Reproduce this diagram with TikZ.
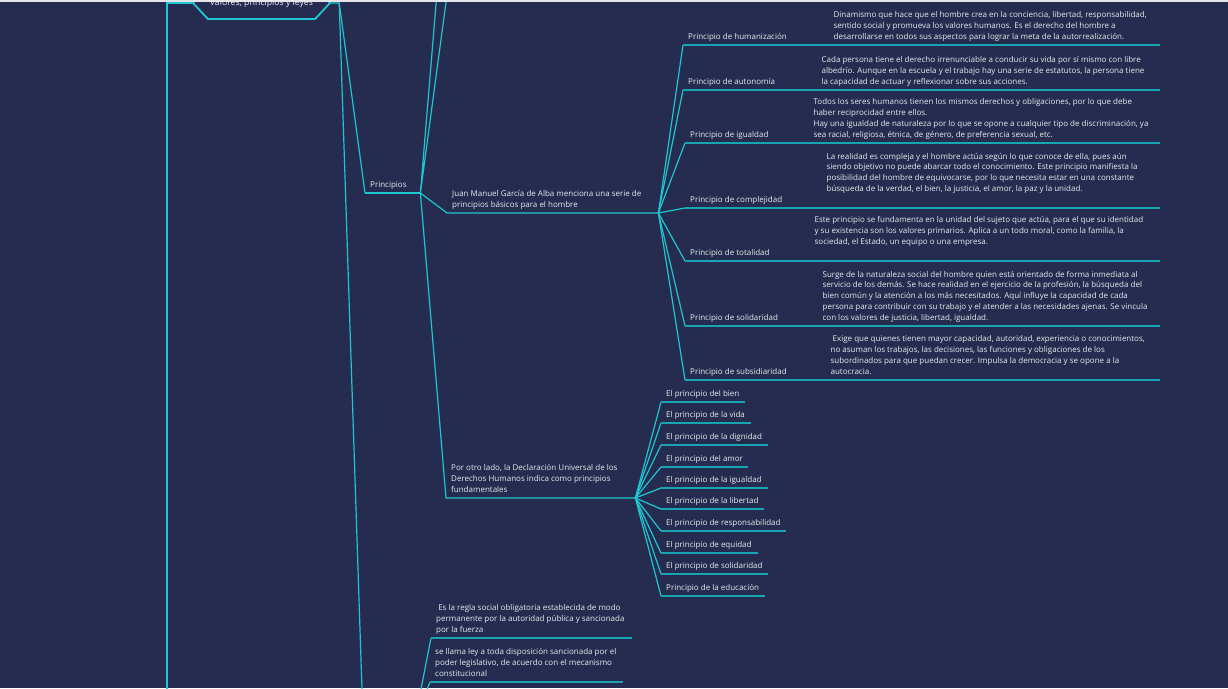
\documentclass[tikz,border=0pt]{standalone}
\usepackage{fontspec}
\setmainfont{Open Sans}
\usetikzlibrary{shapes.symbols}
\definecolor{fondo}{RGB}{37,44,79}
\definecolor{cian}{RGB}{30,198,208}
\definecolor{subraya}{RGB}{24,164,176}
\definecolor{letra}{RGB}{232,234,240}
\newcommand{\linea}[2]{\makebox[#1pt][l]{#2}}
\begin{document}
\begin{tikzpicture}[x=1pt,y=-1pt,
  link/.style={cian,line width=1.2pt},
  uline/.style={subraya,line width=1.2pt},
  topic/.style={font=\fontsize{8}{10.8}\selectfont,text=letra,align=left,
    inner xsep=5pt,inner ysep=5.5pt,text depth=0pt,anchor=south west}]
\pgfmathsetmacro{\xp}{685}
\pgfmathsetmacro{\xe}{661}
\pgfmathsetmacro{\xd}{1160}
  \useasboundingbox (0,0) rectangle (1228,688);
  \fill[fondo] (0,0) rectangle (1228,688);
  \clip (0,0) rectangle (1228,688);
  \node[draw=cian,line width=1.8pt,fill=fondo,signal,signal to=west and east,
    signal pointer angle=94,minimum width=137pt,minimum height=32pt,inner sep=0pt,
    font=\fontsize{8.7}{10}\selectfont,text=letra] (root) at (261.5,3) {Valores, principios y leyes};
  \coordinate (salida) at ([xshift=8pt]root.east);
  \coordinate (izq) at (167,730);
  \coordinate (ley1) at (363,720);
  \coordinate (ley2) at (415,720);
  \coordinate (arribaA) at (438,-20);
  \coordinate (arribaB) at (449,-20);
  \coordinate (fin) at (\xd,0);
  \node[topic] (pri) at (365,193) {\linea{45}{Principios}};
  \node[topic] (juan) at (447,213) {\linea{201}{Juan Manuel García de Alba menciona una serie de}\\principios básicos para el hombre};
  \node[topic] (otro) at (446,498) {\linea{179}{Por otro lado, la Declaración Universal de los}\\Derechos Humanos indica como principios\\fundamentales};
  \node[topic] (hum) at (683,45) {\linea{135}{Principio de humanización}};
  \node[topic] (aut) at (683,90) {\linea{123}{Principio de autonomía}};
  \node[topic] (igu) at (\xp,143) {\linea{113}{Principio de igualdad}};
  \node[topic] (com) at (\xp,208) {\linea{126}{Principio de complejidad}};
  \node[topic] (tot) at (\xp,261) {\linea{114}{Principio de totalidad}};
  \node[topic] (sol) at (\xp,326) {\linea{122}{Principio de solidaridad}};
  \node[topic] (sub) at (\xp,380) {\linea{130}{Principio de subsidiaridad}};
  \node[topic] (dhum) at (hum.south east) {Dinamismo que hace que el hombre crea en la conciencia, libertad, responsabilidad,\\sentido social y promueva los valores humanos. Es el derecho del hombre a\\desarrollarse en todos sus aspectos para lograr la meta de la autorrealización.};
  \node[topic] (daut) at (aut.south east) {Cada persona tiene el derecho irrenunciable a conducir su vida por sí mismo con libre\\albedrío. Aunque en la escuela y el trabajo hay una serie de estatutos, la persona tiene\\la capacidad de actuar y reflexionar sobre sus acciones.};
  \node[topic] (digu) at (igu.south east) {Todos los seres humanos tienen los mismos derechos y obligaciones, por lo que debe\\haber reciprocidad entre ellos.\\Hay una igualdad de naturaleza por lo que se opone a cualquier tipo de discriminación, ya\\sea racial, religiosa, étnica, de género, de preferencia sexual, etc.};
  \node[topic] (dcom) at (com.south east) {La realidad es compleja y el hombre actúa según lo que conoce de ella, pues aún\\siendo objetivo no puede abarcar todo el conocimiento. Este principio manifiesta la\\posibilidad del hombre de equivocarse, por lo que necesita estar en una constante\\búsqueda de la verdad, el bien, la justicia, el amor, la paz y la unidad.\\\mbox{}};
  \node[topic] (dtot) at (tot.south east) {Este principio se fundamenta en la unidad del sujeto que actúa, para el que su identidad\\y su existencia son los valores primarios. Aplica a un todo moral, como la familia, la\\sociedad, el Estado, un equipo o una empresa.\\\mbox{}};
  \node[topic] (dsol) at (sol.south east) {Surge de la naturaleza social del hombre quien está orientado de forma inmediata al\\servicio de los demás. Se hace realidad en el ejercicio de la profesión, la búsqueda del\\bien común y la atención a los más necesitados. Aquí influye la capacidad de cada\\persona para contribuir con su trabajo y el atender a las necesidades ajenas. Se vincula\\con los valores de justicia, libertad, igualdad.};
  \node[topic] (dsub) at (sub.south east) {\ Exige que quienes tienen mayor capacidad, autoridad, experiencia o conocimientos,\\no asuman los trabajos, las decisiones, las funciones y obligaciones de los\\subordinados para que puedan crecer. Impulsa la democracia y se opone a la\\autocracia.};
  \node[topic] (bien) at (\xe,402) {\linea{74}{El principio del bien}};
  \node[topic] (vida) at (\xe,423) {\linea{80}{El principio de la vida}};
  \node[topic] (dig) at (\xe,445) {\linea{97}{El principio de la dignidad}};
  \node[topic] (amor) at (\xe,467) {\linea{77}{El principio del amor}};
  \node[topic] (iguald) at (\xe,488) {\linea{97}{El principio de la igualdad}};
  \node[topic] (lib) at (\xe,509) {\linea{93}{El principio de la libertad}};
  \node[topic] (resp) at (\xe,531) {\linea{115}{El principio de responsabilidad}};
  \node[topic] (equi) at (\xe,553) {\linea{87}{El principio de equidad}};
  \node[topic] (solid) at (\xe,574) {\linea{97}{El principio de solidaridad}};
  \node[topic] (edu) at (\xe,596) {\linea{94}{Principio de la educación}};
  \node[topic] (regla) at (431,638) {\linea{191}{\ Es la regla social obligatoria establecida de modo}\\permanente por la autoridad pública y sancionada\\por la fuerza};
  \node[topic] (llama) at (430,682) {\linea{183}{se llama ley a toda disposición sancionada por el}\\poder legislativo, de acuerdo con el mecanismo\\constitucional};
  \draw[link,line width=1.8pt] (root.west) -| (izq);
  \draw[link] (root.east) -- (salida) -- (pri.south west);
  \draw[link] (salida) -- (ley1);
  \draw[link] (pri.south west) -- (pri.south east);
  \draw[link] (arribaA) -- (pri.south east) -- (arribaB);
  \draw[link] (pri.south east) -- (juan.south west) -- (juan.south east);
  \draw[link] (pri.south east) -- (otro.south west) -- (otro.south east);
  \foreach \n in {hum,aut,igu,com,tot,sol,sub} {
    \draw[link] (juan.south east) -- (\n.south west);
    \draw[uline] (\n.south west) -- (\n.south west -| fin);
  }
  \foreach \n in {bien,vida,dig,amor,iguald,lib,resp,equi,solid,edu} {
    \draw[link] (otro.south east) -- (\n.south west);
    \draw[uline] (\n.south west) -- (\n.south east);
  }
  \foreach \n in {regla,llama} {
    \draw[link] (ley2) -- (\n.south west);
    \draw[uline] (\n.south west) -- (\n.south east);
  }
  \fill[white!88!fondo] (0,0) rectangle (1228,2);
\end{tikzpicture}
\end{document}
